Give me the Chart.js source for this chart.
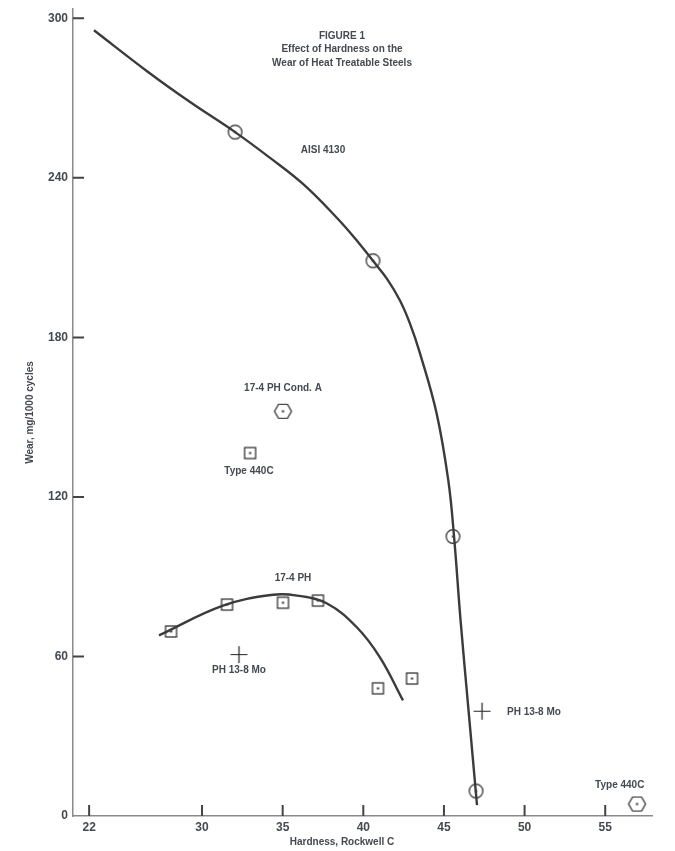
<!DOCTYPE html>
<html>
<head>
<meta charset="utf-8">
<script src="https://cdn.jsdelivr.net/npm/chart.js@4.4.1/dist/chart.umd.min.js"></script>
<style>
  body { margin: 0; background: #fff; }
  #wrap { width: 675px; height: 851px; }
</style>
</head>
<body>
<div id="wrap"><canvas id="wear"></canvas></div>
<script>
// hardness (Rockwell C) / wear (mg per 1000 cycles)
const aisiCurveX = [23.3, 26.59, 29.26, 32.05, 34.22, 36.26, 38.37, 39.67, 40.6, 41.47, 42.28, 42.9, 43.52, 44.55, 45.27, 45.62, 46.03, 46.54, 47.05];
const aisiCurveY = [295.5, 280.1, 268.5, 257.2, 247.5, 237.7, 224.9, 215.9, 208.8, 202.0, 193.8, 185.1, 173.9, 151.3, 126.2, 105.5, 73.6, 38.7, 4.1];
const aisiX = [32.05, 40.6, 45.56, 46.99];
const aisiY = [257.2, 208.8, 105.1, 9.4];

const ph174CurveX = [27.33, 31.3, 34.4, 35.89, 37.75, 39.61, 41.04, 42.46];
const ph174CurveY = [67.9, 79.1, 83.2, 82.9, 79.9, 70.9, 59.6, 43.5];
const ph174X = [28.08, 31.55, 35.02, 37.19, 40.91, 43.02];
const ph174Y = [69.4, 79.5, 80.2, 81.0, 48.0, 51.7];

const type440cSquareX = [32.98];
const type440cSquareY = [136.5];
const type440cHexX = [56.97];
const type440cHexY = [4.5];

const ph138X = [32.29, 47.36];
const ph138Y = [60.7, 39.4];

const condAX = [35.02];
const condAY = [152.2];

const xTickValues = [23, 30, 35, 40, 45, 50, 55];
const xTickLabels = ['22', '30', '35', '40', '45', '50', '55'];
const yTickValues = [0, 60, 120, 180, 240, 300];

const ink = '#3b3b3b';
const textCol = '#454950';
const font = 'bold 10px "Liberation Sans", Arial, sans-serif';

const pts = (xs, ys) => xs.map((x, i) => ({ x: x, y: ys[i] }));

// small marker images
function marker(w, h, draw) {
  const c = document.createElement('canvas');
  c.width = w; c.height = h;
  const g = c.getContext('2d');
  g.strokeStyle = '#222';
  g.fillStyle = '#222';
  g.lineWidth = 1.2;
  draw(g, w / 2, h / 2);
  return c;
}
const dot = (g, cx, cy) => { g.fillRect(cx - 1, cy - 1, 2, 2); };
const circleMark = marker(17, 17, (g, cx, cy) => {
  g.beginPath(); g.arc(cx, cy, 6.8, 0, Math.PI * 2); g.stroke(); dot(g, cx, cy);
});
const squareMark = marker(15, 15, (g, cx, cy) => {
  g.strokeRect(cx - 5.5, cy - 5.5, 11, 11); dot(g, cx, cy);
});
const crossMark = marker(19, 19, (g, cx, cy) => {
  g.beginPath();
  g.moveTo(cx - 8.5, cy); g.lineTo(cx + 8.5, cy);
  g.moveTo(cx, cy - 8.5); g.lineTo(cx, cy + 8.5);
  g.stroke();
});
const hexMark = marker(21, 17, (g, cx, cy) => {
  g.beginPath();
  g.moveTo(cx - 8.5, cy); g.lineTo(cx - 4.5, cy - 7); g.lineTo(cx + 4.5, cy - 7);
  g.lineTo(cx + 8.5, cy); g.lineTo(cx + 4.5, cy + 7); g.lineTo(cx - 4.5, cy + 7);
  g.closePath(); g.stroke(); dot(g, cx, cy);
});

const notes = [
  { text: 'AISI 4130', x: 37.5, y: 250.5 },
  { text: '17-4 PH Cond. A', x: 35.02, y: 160.9 },
  { text: 'Type 440C', x: 32.91, y: 129.7 },
  { text: '17-4 PH', x: 35.64, y: 89.6 },
  { text: 'PH 13-8 Mo', x: 32.29, y: 54.7 },
  { text: 'PH 13-8 Mo', x: 50.58, y: 39.0 },
  { text: 'Type 440C', x: 55.9, y: 11.6 }
];

const figureText = {
  id: 'figureText',
  afterDraw(chart) {
    const { ctx, scales: { x, y } } = chart;
    ctx.save();
    // inward ticks
    ctx.strokeStyle = '#444';
    ctx.lineWidth = 2;
    ctx.beginPath();
    x.ticks.forEach(t => {
      const px = x.getPixelForValue(t.value);
      ctx.moveTo(px, y.bottom); ctx.lineTo(px, y.bottom - 11);
    });
    y.ticks.forEach(t => {
      if (t.value === 0) return;
      const py = y.getPixelForValue(t.value);
      ctx.moveTo(x.left, py); ctx.lineTo(x.left + 11, py);
    });
    ctx.stroke();

    ctx.fillStyle = textCol;
    ctx.font = font;
    ctx.textAlign = 'center';
    ctx.textBaseline = 'middle';
    notes.forEach(n => {
      ctx.fillText(n.text, x.getPixelForValue(n.x), y.getPixelForValue(n.y));
    });
    ctx.fillText('FIGURE 1', 342, 36);
    ctx.fillText('Effect of Hardness on the', 342, 49);
    ctx.fillText('Wear of Heat Treatable Steels', 342, 63);
    ctx.fillText('Hardness, Rockwell C', 342, 842);
    ctx.restore();
  }
};

const curve = (data) => ({
  type: 'line', data: data, borderColor: ink, borderWidth: 2.4,
  pointRadius: 0, fill: false, tension: 0.4
});
const marks = (data, style) => ({
  type: 'scatter', data: data, pointStyle: style, pointRadius: 8, pointHoverRadius: 8
});

new Chart(document.getElementById('wear'), {
  data: {
    datasets: [
      curve(pts(aisiCurveX, aisiCurveY)),
      curve(pts(ph174CurveX, ph174CurveY)),
      marks(pts(aisiX, aisiY), circleMark),
      marks(pts(ph174X, ph174Y), squareMark),
      marks(pts(type440cSquareX, type440cSquareY), squareMark),
      marks(pts(ph138X, ph138Y), crossMark),
      marks(pts(condAX, condAY), hexMark),
      marks(pts(type440cHexX, type440cHexY), hexMark)
    ]
  },
  plugins: [figureText],
  options: {
    responsive: true,
    maintainAspectRatio: false,
    animation: false,
    clip: false,
    layout: { padding: { top: 7, right: 23, bottom: 0, left: 0 } },
    plugins: { legend: { display: false }, tooltip: { enabled: false } },
    scales: {
      x: {
        type: 'linear',
        min: 22,
        max: 57.9,
        afterBuildTicks: (s) => { s.ticks = xTickValues.map(v => ({ value: v })); },
        afterFit: (s) => { s.height = 35; },
        ticks: {
          padding: 4,
          color: textCol,
          font: { family: '"Liberation Sans", Arial, sans-serif', size: 12, weight: 'bold' },
          callback: (v, i) => xTickLabels[i]
        },
        grid: { display: true, drawOnChartArea: false, drawTicks: false },
        border: { display: true, color: '#8a8a8a', width: 1.5 }
      },
      y: {
        type: 'linear',
        min: 0,
        max: 303.5,
        afterBuildTicks: (s) => { s.ticks = yTickValues.map(v => ({ value: v })); },
        afterFit: (s) => { s.width = 73; s.paddingTop = 0; s.paddingBottom = 0; },
        ticks: {
          padding: 5,
          color: textCol,
          font: { family: '"Liberation Sans", Arial, sans-serif', size: 12, weight: 'bold' }
        },
        grid: { display: true, drawOnChartArea: false, drawTicks: false },
        border: { display: true, color: '#8a8a8a', width: 1.5 },
        title: {
          display: true,
          text: 'Wear, mg/1000 cycles',
          color: textCol,
          font: { family: '"Liberation Sans", Arial, sans-serif', size: 10, weight: 'bold' },
          padding: { top: 24, bottom: 0 }
        }
      }
    }
  }
});
</script>
</body>
</html>
